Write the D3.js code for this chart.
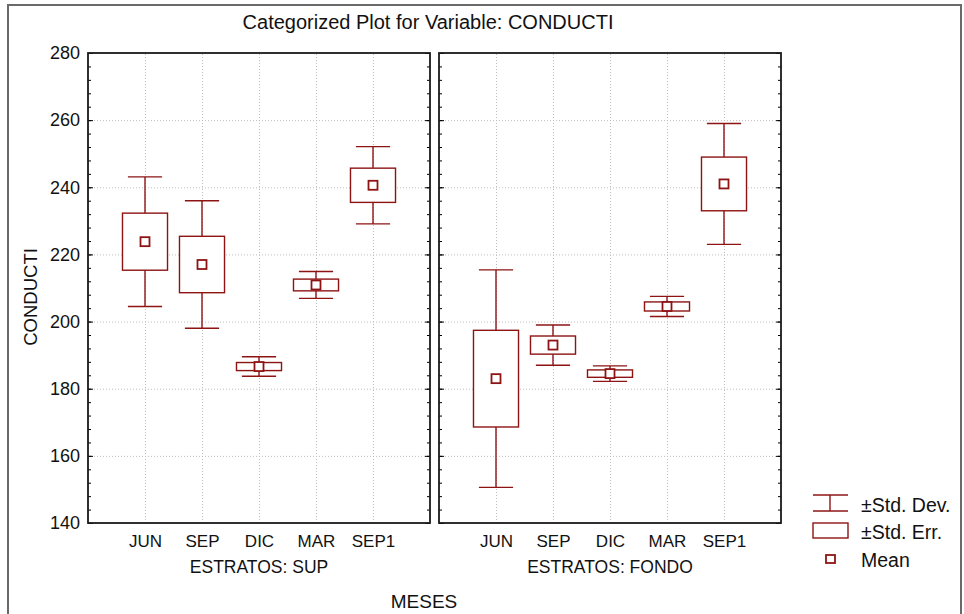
<!DOCTYPE html>
<html>
<head>
<meta charset="utf-8">
<script src="https://cdn.jsdelivr.net/npm/d3@7"></script>
<style>
    body { margin: 0; background: #fff; }
    text { font-family: Arial, 'Liberation Sans', sans-serif; fill: #111; }
</style>
</head>
<body>
<svg></svg>
<script>
const months = ['JUN', 'SEP', 'DIC', 'MAR', 'SEP1']
const strata = ['SUP', 'FONDO']
const supMean = [223.8, 217.0, 186.6, 210.9, 240.6]
const supSE = [8.5, 8.4, 1.2, 1.75, 5.1]
const supSD = [19.3, 19.0, 2.9, 4.0, 11.5]
const fondoMean = [183.0, 193.0, 184.5, 204.5, 241.0]
const fondoSE = [14.4, 2.7, 1.1, 1.35, 8.0]
const fondoSD = [32.4, 6.0, 2.3, 3.0, 18.0]
const yTicks = [140, 160, 180, 200, 220, 240, 260, 280]
const minorTicks = d3.range(140, 281, 4)
const legendLabels = ['±Std. Dev.', '±Std. Err.', 'Mean']

const width = 964
const height = 614
const red = '#8e1414'
const panels = [
    { x: 88, label: 'ESTRATOS: ' + strata[0], mean: supMean, se: supSE, sd: supSD },
    { x: 439, label: 'ESTRATOS: ' + strata[1], mean: fondoMean, se: fondoSE, sd: fondoSD }
]
const pw = 342
const plotTop = 53
const plotBottom = 523

const svg = d3.select('svg')
    .attr('width', width)
    .attr('height', height)

svg.append('rect')
    .attr('x', 8).attr('y', 5)
    .attr('width', 953).attr('height', 700)
    .attr('fill', 'none')
    .attr('stroke', '#6a6a6a')
    .attr('stroke-width', 2)

svg.append('text')
    .attr('x', 428).attr('y', 22)
    .attr('dy', '0.35em')
    .attr('text-anchor', 'middle')
    .style('font-size', '20px')
    .text('Categorized Plot for Variable: CONDUCTI')

const yScale = d3.scaleLinear()
    .domain([140, 280])
    .range([plotBottom, plotTop])

const xScale = d3.scalePoint()
    .domain(months)
    .range([0, pw])
    .padding(1)

const step = xScale.step()
const boxW = step * 0.79
const capW = step * 0.6
const meanW = 9

// y labels only once, on the left
svg.append('g')
    .attr('transform', `translate(${panels[0].x},0)`)
    .call(d3.axisLeft(yScale).tickValues(yTicks).tickSize(0).tickPadding(8))
    .call(g => g.select('.domain').remove())
    .selectAll('text')
    .style('font-size', '18px')
    .attr('fill', '#111')

svg.append('text')
    .attr('transform', `translate(31,297) rotate(-90)`)
    .attr('dy', '0.35em')
    .attr('text-anchor', 'middle')
    .style('font-size', '18.5px')
    .text('CONDUCTI')

panels.forEach(p => {
    const g = svg.append('g').attr('transform', `translate(${p.x},0)`)

    // grid
    g.append('g')
        .call(d3.axisLeft(yScale).tickValues(yTicks.slice(1, -1)).tickSize(-pw).tickFormat(''))
        .call(a => a.select('.domain').remove())
        .selectAll('line')
        .attr('stroke', '#bdbdbd')
        .attr('stroke-dasharray', '1,2')
    g.append('g')
        .attr('transform', `translate(0,${plotBottom})`)
        .call(d3.axisBottom(xScale).tickSize(-(plotBottom - plotTop)).tickFormat(''))
        .call(a => a.select('.domain').remove())
        .selectAll('line')
        .attr('stroke', '#bdbdbd')
        .attr('stroke-dasharray', '1,2')

    // inward ticks both sides
    g.append('g')
        .call(d3.axisRight(yScale).tickValues(minorTicks).tickSize(3).tickFormat(''))
        .call(a => a.select('.domain').remove())
    g.append('g')
        .call(d3.axisRight(yScale).tickValues(yTicks).tickSize(5).tickFormat(''))
        .call(a => a.select('.domain').remove())
    g.append('g')
        .attr('transform', `translate(${pw},0)`)
        .call(d3.axisLeft(yScale).tickValues(minorTicks).tickSize(3).tickFormat(''))
        .call(a => a.select('.domain').remove())
    g.append('g')
        .attr('transform', `translate(${pw},0)`)
        .call(d3.axisLeft(yScale).tickValues(yTicks).tickSize(5).tickFormat(''))
        .call(a => a.select('.domain').remove())

    g.append('rect')
        .attr('x', 0).attr('y', plotTop)
        .attr('width', pw).attr('height', plotBottom - plotTop)
        .attr('fill', 'none')
        .attr('stroke', '#1a1a1a')
        .attr('stroke-width', 1.8)

    g.append('g')
        .attr('transform', `translate(0,${plotBottom})`)
        .call(d3.axisBottom(xScale).tickSize(0).tickPadding(12))
        .call(a => a.select('.domain').remove())
        .selectAll('text')
        .style('font-size', '17px')
        .attr('fill', '#111')

    g.append('text')
        .attr('x', xScale('DIC'))
        .attr('y', 567)
        .attr('dy', '0.35em')
        .attr('text-anchor', 'middle')
        .style('font-size', '17.5px')
        .text(p.label)

    const rows = months.map((m, i) => ({ m, mean: p.mean[i], se: p.se[i], sd: p.sd[i] }))
    const item = g.selectAll('.item')
        .data(rows)
        .enter()
        .append('g')
        .classed('item', true)
        .attr('fill', 'none')
        .attr('stroke', red)
        .attr('stroke-width', 1.4)

    item.append('line')
        .attr('x1', d => xScale(d.m)).attr('x2', d => xScale(d.m))
        .attr('y1', d => yScale(d.mean + d.sd)).attr('y2', d => yScale(d.mean - d.sd))
    item.append('line')
        .attr('x1', d => xScale(d.m) - capW / 2).attr('x2', d => xScale(d.m) + capW / 2)
        .attr('y1', d => yScale(d.mean + d.sd)).attr('y2', d => yScale(d.mean + d.sd))
    item.append('line')
        .attr('x1', d => xScale(d.m) - capW / 2).attr('x2', d => xScale(d.m) + capW / 2)
        .attr('y1', d => yScale(d.mean - d.sd)).attr('y2', d => yScale(d.mean - d.sd))
    item.append('rect')
        .attr('fill', '#fff')
        .attr('x', d => xScale(d.m) - boxW / 2)
        .attr('width', boxW)
        .attr('y', d => yScale(d.mean + d.se))
        .attr('height', d => yScale(d.mean - d.se) - yScale(d.mean + d.se))
    item.append('rect')
        .attr('fill', '#fff')
        .attr('stroke-width', 1.8)
        .attr('x', d => xScale(d.m) - meanW / 2)
        .attr('y', d => yScale(d.mean) - meanW / 2)
        .attr('width', meanW)
        .attr('height', meanW)
})

svg.append('text')
    .attr('x', 424).attr('y', 601)
    .attr('dy', '0.35em')
    .attr('text-anchor', 'middle')
    .style('font-size', '19px')
    .text('MESES')

// legend
const lg = svg.append('g')
    .attr('fill', 'none')
    .attr('stroke', red)
    .attr('stroke-width', 1.4)
lg.append('line').attr('x1', 813).attr('x2', 848).attr('y1', 495).attr('y2', 495)
lg.append('line').attr('x1', 813).attr('x2', 848).attr('y1', 511).attr('y2', 511)
lg.append('line').attr('x1', 830).attr('x2', 830).attr('y1', 495).attr('y2', 511)
lg.append('rect').attr('x', 813).attr('y', 523).attr('width', 35).attr('height', 15)
lg.append('rect').attr('x', 826).attr('y', 555).attr('width', 9).attr('height', 8).attr('stroke-width', 1.8)

svg.selectAll('.legend-label')
    .data(legendLabels)
    .enter()
    .append('text')
    .classed('legend-label', true)
    .attr('x', 861)
    .attr('y', (d, i) => [505, 532, 560][i])
    .attr('dy', '0.35em')
    .style('font-size', '19.5px')
    .text(d => d)
</script>
</body>
</html>
